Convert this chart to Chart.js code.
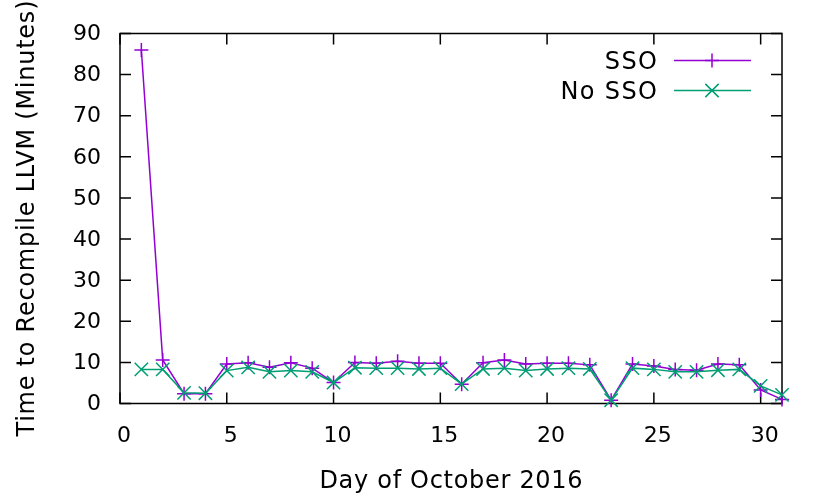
<!DOCTYPE html>
<html>
<head>
<meta charset="utf-8">
<script src="https://cdn.jsdelivr.net/npm/chart.js@4.4.1/dist/chart.umd.min.js"></script>
<style>
  html, body { margin: 0; padding: 0; background: #fff; }
  #wrap { width: 830px; height: 498px; }
</style>
</head>
<body>
<div id="wrap"><canvas id="c" width="830" height="498"></canvas></div>
<script>
const days = [1,2,3,4,5,6,7,8,9,10,11,12,13,14,15,16,17,18,19,20,21,22,23,24,25,26,27,28,29,30,31];
const ssoValues = [86,10.6,2.4,2.4,9.6,9.9,8.8,9.9,8.6,5.1,10.0,9.8,10.3,9.8,9.8,4.7,9.9,10.6,9.6,9.8,9.8,9.4,0.8,9.6,9.1,8.3,8.1,9.6,9.4,3.3,1.0];
const noSsoValues = [8.3,8.3,2.6,2.5,8.0,8.8,7.7,8.0,7.7,5.1,8.7,8.6,8.6,8.4,8.6,4.7,8.4,8.6,8.0,8.4,8.6,8.4,0.8,8.6,8.3,7.7,7.7,8.1,8.3,4.3,2.1];
const xTicks = [0,5,10,15,20,25,30];
const yTicks = [0,10,20,30,40,50,60,70,80,90];
const seriesNames = ['SSO', 'No SSO'];
const xTitle = 'Day of October 2016';
const yTitle = 'Time to Recompile LLVM (Minutes)';

const FONT = "'DejaVu Sans', Verdana, sans-serif";
const PURPLE = '#9400d3';
const GREEN = '#009e73';

const toPts = vals => days.map((d, i) => ({ x: d, y: vals[i] }));

function spacedText(ctx, text, x, y, spacing, align) {
  ctx.letterSpacing = spacing + 'px';
  const w = ctx.measureText(text).width - spacing;
  let sx = x;
  if (align === 'center') sx = x - w / 2;
  else if (align === 'right') sx = x - w;
  ctx.textAlign = 'left';
  ctx.fillText(text, sx, y);
  ctx.letterSpacing = '0px';
}

const frame = {
  id: 'frame',
  beforeDatasetsDraw(chart) {
    const { ctx, chartArea: a, scales: { x, y } } = chart;
    ctx.save();
    ctx.strokeStyle = '#000';
    ctx.lineWidth = 1.5;
    ctx.beginPath();
    ctx.rect(a.left, a.top, a.right - a.left, a.bottom - a.top);
    ctx.stroke();
    const L = 11;
    ctx.beginPath();
    xTicks.forEach(v => {
      const px = x.getPixelForValue(v);
      ctx.moveTo(px, a.bottom); ctx.lineTo(px, a.bottom - L);
      ctx.moveTo(px, a.top); ctx.lineTo(px, a.top + L);
    });
    yTicks.forEach(v => {
      const py = y.getPixelForValue(v);
      ctx.moveTo(a.left, py); ctx.lineTo(a.left + L, py);
      ctx.moveTo(a.right, py); ctx.lineTo(a.right - L, py);
    });
    ctx.stroke();

    // axis titles
    ctx.fillStyle = '#000';
    ctx.font = '24px ' + FONT;
    ctx.textBaseline = 'alphabetic';
    spacedText(ctx, xTitle, (a.left + a.right) / 2, 487.5, 0.7, 'center');
    ctx.save();
    ctx.translate(34, (a.top + a.bottom) / 2);
    ctx.rotate(-Math.PI / 2);
    spacedText(ctx, yTitle, 0, 0, 0.75, 'center');
    ctx.restore();
    ctx.restore();
  },
  afterDraw(chart) {
    const { ctx } = chart;
    ctx.save();
    chart.data.datasets.forEach((ds, i) => {
      const yb = 68.5 + 30 * i;
      const ym = 60.5 + 30 * i;
      ctx.font = '24px ' + FONT;
      ctx.fillStyle = '#000';
      ctx.textBaseline = 'alphabetic';
      spacedText(ctx, ds.label, 657, yb, 1.4, 'right');
      ctx.strokeStyle = ds.borderColor;
      ctx.lineWidth = ds.borderWidth;
      ctx.beginPath();
      ctx.moveTo(674, ym); ctx.lineTo(751, ym);
      ctx.stroke();
      Chart.helpers.drawPoint(ctx, {
        pointStyle: ds.pointStyle, radius: ds.pointRadius, rotation: 0, borderWidth: ds.pointBorderWidth
      }, 712, ym);
    });
    ctx.restore();
  }
};

new Chart(document.getElementById('c'), {
  type: 'line',
  data: {
    datasets: [
      {
        label: seriesNames[0], data: toPts(ssoValues),
        borderColor: PURPLE, backgroundColor: PURPLE, borderWidth: 1.5,
        pointStyle: 'cross', pointRadius: 7, pointBorderWidth: 1.5,
        pointBorderColor: PURPLE, tension: 0, clip: false, order: 2
      },
      {
        label: seriesNames[1], data: toPts(noSsoValues),
        borderColor: GREEN, backgroundColor: GREEN, borderWidth: 1.5,
        pointStyle: 'crossRot', pointRadius: 9.4, pointBorderWidth: 1.5,
        pointBorderColor: GREEN, tension: 0, clip: false, order: 1
      }
    ]
  },
  options: {
    responsive: false,
    animation: false,
    devicePixelRatio: 1,
    layout: { padding: { top: 33.5, right: 48, left: 0, bottom: 0 } },
    plugins: { legend: { display: false }, tooltip: { enabled: false } },
    elements: { point: { hoverRadius: 7 } },
    scales: {
      x: {
        type: 'linear', min: 0, max: 31,
        afterBuildTicks: s => { s.ticks = xTicks.map(v => ({ value: v })); },
        afterFit: s => { s.height = 498 - 403.5; },
        grid: { display: false, drawTicks: false },
        border: { display: false },
        ticks: { color: '#000', font: { family: FONT, size: 22 }, padding: 20, labelOffset: 4, maxRotation: 0, autoSkip: false },
        title: { display: false }
      },
      y: {
        type: 'linear', min: 0, max: 90,
        afterBuildTicks: s => { s.ticks = yTicks.map(v => ({ value: v })); },
        afterFit: s => { s.width = 120; },
        grid: { display: false, drawTicks: false },
        border: { display: false },
        ticks: { color: '#000', font: { family: FONT, size: 22 }, padding: 19, labelOffset: 1, autoSkip: false },
        title: { display: false }
      }
    }
  },
  plugins: [frame]
});
</script>
</body>
</html>
